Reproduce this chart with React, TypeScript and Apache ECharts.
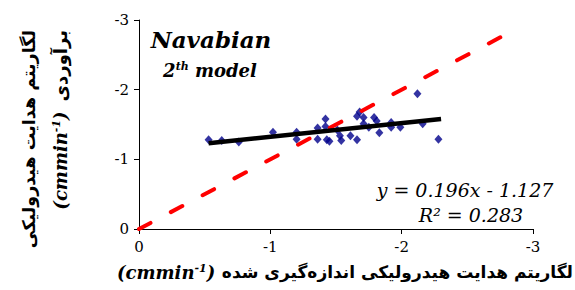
import React, { useEffect, useRef } from "react";
import * as echarts from "echarts";

// measured log hydraulic conductivity (x) and estimated (y)
const measured = [
  -0.53, -0.63, -0.76, -1.02, -1.2, -1.2, -1.36, -1.36, -1.42, -1.42, -1.43,
  -1.45, -1.51, -1.53, -1.54, -1.61, -1.66, -1.66, -1.68, -1.71, -1.71, -1.75,
  -1.79, -1.81, -1.83, -1.92, -1.92, -1.99, -2.12, -2.16, -2.28,
];
const estimated = [
  -1.28, -1.27, -1.25, -1.39, -1.39, -1.29, -1.45, -1.29, -1.58, -1.47, -1.28,
  -1.26, -1.42, -1.34, -1.27, -1.34, -1.28, -1.62, -1.68, -1.6, -1.51, -1.46,
  -1.6, -1.55, -1.38, -1.53, -1.46, -1.46, -1.94, -1.51, -1.29,
];
const axisTicks = [0, -1, -2, -3];
const trendSlope = 0.196;
const trendIntercept = -1.127;
const trendRange = [-0.53, -2.3];
const identityRange = [0, -2.88];

export default function App() {
  const ref = useRef<HTMLDivElement>(null);
  useEffect(() => {
    const chart = echarts.init(ref.current!, null, { renderer: "svg" });
    const serif = "\"DejaVu Serif\", serif";
    const fa = "\"DejaVu Sans\", sans-serif";
    const axisMin = Math.min(...axisTicks);
    const axisMax = Math.max(...axisTicks);
    const axisCommon = {
      type: "value",
      min: axisMin,
      max: axisMax,
      interval: 1,
      inverse: true,
      axisLine: { onZero: false, lineStyle: { color: "#000", width: 1 } },
      axisTick: { show: true, length: 5, inside: false, lineStyle: { color: "#000", width: 1 } },
      axisLabel: { color: "#000", fontSize: 15, fontFamily: serif, margin: 10 },
      splitLine: { show: false },
    };
    const makeRich = (latin: number, persian: number) => ({
      it: { fontFamily: serif, fontStyle: "italic", fontWeight: "bold", fontSize: latin, fill: "#000" },
      sup: {
        fontFamily: serif,
        fontStyle: "italic",
        fontWeight: "bold",
        fontSize: Math.round(latin * 0.6),
        verticalAlign: "top",
        fill: "#000",
      },
      fa: { fontFamily: fa, fontWeight: "bold", fontSize: persian, fill: "#000" },
    });
    chart.setOption({
      animation: false,
      backgroundColor: "#fff",
      grid: { left: 139, right: 42, top: 20, bottom: 61 },
      xAxis: axisCommon,
      yAxis: axisCommon,
      series: [
        {
          type: "scatter",
          data: measured.map((m, i) => [m, estimated[i]]),
          symbol: "diamond",
          symbolSize: [8, 9],
          itemStyle: { color: "#00008b" },
          z: 2,
        },
        {
          type: "line",
          data: identityRange.map((v) => [v, v]),
          symbol: "none",
          lineStyle: { color: "#ff0000", width: 4, type: [13, 23], cap: "round" },
          z: 3,
        },
        {
          type: "line",
          data: trendRange.map((v) => [v, trendSlope * v + trendIntercept]),
          symbol: "none",
          lineStyle: { color: "#000", width: 4.5 },
          z: 4,
        },
      ],
      graphic: [
        {
          type: "text",
          x: 211,
          y: 39,
          style: {
            text: "Navabian",
            fontFamily: serif,
            fontStyle: "italic",
            fontWeight: "bold",
            fontSize: 23,
            fill: "#000",
            align: "center",
            verticalAlign: "middle",
          },
        },
        {
          type: "text",
          x: 210,
          y: 70,
          style: {
            text: "{a|2}{s|th}{a| model}",
            align: "center",
            verticalAlign: "middle",
            rich: {
              a: { fontFamily: serif, fontStyle: "italic", fontWeight: "bold", fontSize: 18, fill: "#000" },
              s: { fontFamily: serif, fontStyle: "italic", fontWeight: "bold", fontSize: 11, verticalAlign: "top", fill: "#000" },
            },
          },
        },
        {
          type: "text",
          x: 465,
          y: 190,
          style: {
            text: "y = 0.196x - 1.127",
            fontFamily: serif,
            fontStyle: "italic",
            fontSize: 19,
            fill: "#000",
            align: "center",
            verticalAlign: "middle",
          },
        },
        {
          type: "text",
          x: 471,
          y: 215,
          style: {
            text: "R² = 0.283",
            fontFamily: serif,
            fontStyle: "italic",
            fontSize: 19,
            fill: "#000",
            align: "center",
            verticalAlign: "middle",
          },
        },
        {
          type: "text",
          x: 573,
          y: 272,
          style: {
            text: "{it|(cmmin}{sup|-1}{it|)}  {fa|لگاریتم هدایت هیدرولیکی اندازه‌گیری شده}",
            align: "right",
            verticalAlign: "middle",
            rich: makeRich(18, 17),
          },
        },
        {
          type: "text",
          x: 29,
          y: 30,
          rotation: Math.PI / 2,
          style: {
            text: "{fa|لگاریتم هدایت هیدرولیکی}",
            align: "right",
            verticalAlign: "middle",
            rich: makeRich(18, 17.5),
          },
        },
        {
          type: "text",
          x: 60,
          y: 30,
          rotation: Math.PI / 2,
          style: {
            text: "{it|(cmmin}{sup|-1}{it|)}   {fa|برآوردی}",
            align: "right",
            verticalAlign: "middle",
            rich: makeRich(18, 18),
          },
        },
      ],
    });
    return () => chart.dispose();
  }, []);
  return (
    <div
      ref={ref}
      style={{ position: "fixed", left: 0, top: 0, width: 575, height: 290, background: "#fff" }}
    />
  );
}
